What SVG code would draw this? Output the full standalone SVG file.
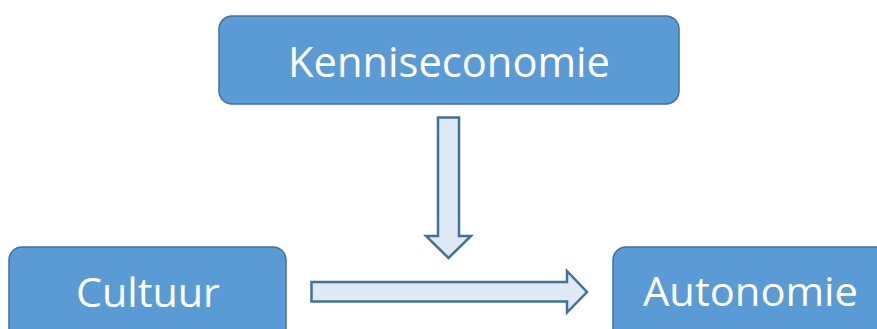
<svg xmlns="http://www.w3.org/2000/svg" width="877" height="329" viewBox="0 0 877 329">
<style>
.box{fill:#5B9BD5;stroke:#41719C;stroke-width:1.5}
.lbl{font-family:"Open Sans","Liberation Sans",sans-serif;fill:#FFFFFF;text-anchor:middle}
.arr{fill:#DEEBF7;stroke:#41719C;stroke-width:2.5;stroke-linejoin:miter}
</style>
<rect width="877" height="329" fill="#FFFFFF"/>
<g id="kenniseconomie">
<rect class="box" x="219" y="16" width="460" height="88" rx="13"/>
<text class="lbl" x="449" y="77" font-size="42" textLength="322" lengthAdjust="spacingAndGlyphs">Kenniseconomie</text>
</g>
<g id="cultuur">
<rect class="box" x="9" y="247" width="277" height="100" rx="13"/>
<text class="lbl" x="148" y="306.5" font-size="40" textLength="144" lengthAdjust="spacingAndGlyphs">Cultuur</text>
</g>
<g id="autonomie">
<rect class="box" x="613" y="247" width="280" height="100" rx="13"/>
<text class="lbl" x="750.5" y="306" font-size="40" textLength="215" lengthAdjust="spacingAndGlyphs">Autonomie</text>
</g>
<g id="connectors">
<polygon class="arr" points="438,117.5 459,117.5 459,236 471,236 448.5,258 426,236 438,236"/>
<polygon class="arr" points="311.5,282 567,282 567,271 587,292 567,312.5 567,301.5 311.5,301.5"/>
</g>
</svg>
